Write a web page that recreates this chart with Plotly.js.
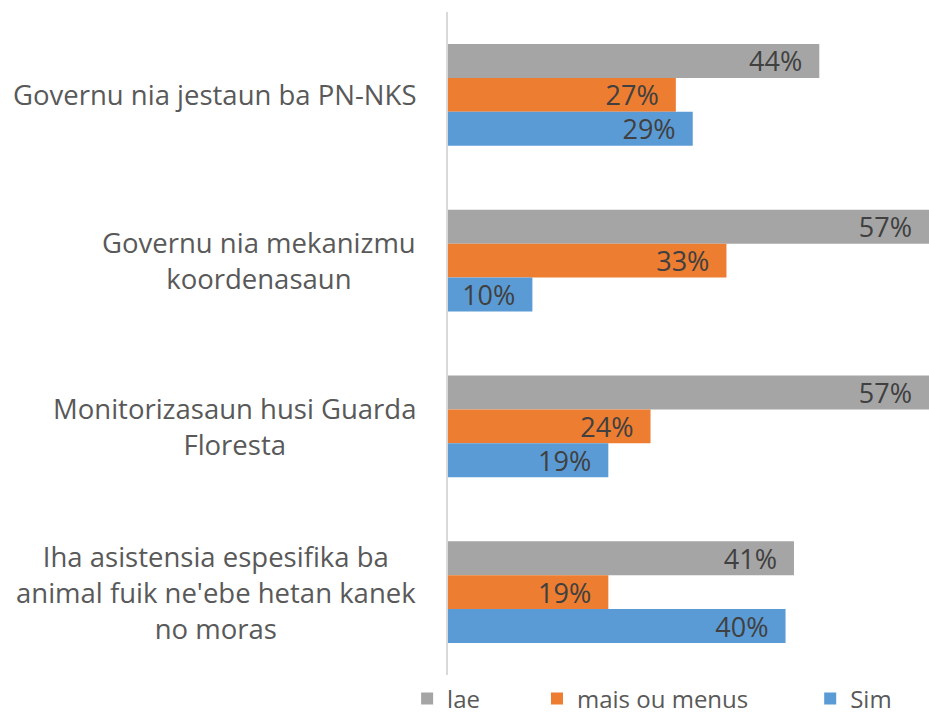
<!DOCTYPE html>
<html>
<head>
<meta charset="utf-8">
<script src="https://cdn.plot.ly/plotly-3.0.1.min.js"></script>
<style>html,body{margin:0;padding:0;background:#fff;}#chart{width:929px;height:717px;}</style>
</head>
<body>
<div id="chart"></div>
<script>
const categories = [
  "Governu nia jestaun ba PN-NKS",
  "Governu nia mekanizmu<br>koordenasaun",
  "Monitorizasaun husi Guarda<br>Floresta",
  "Iha asistensia espesifika ba<br>animal fuik ne'ebe hetan kanek<br>no moras"
];
const seriesNames = ["lae", "mais ou menus", "Sim"];
const laeValues = [44, 57, 57, 41];
const maisValues = [27, 33, 24, 19];
const simValues = [29, 10, 19, 40];
const colors = ["#a5a5a5", "#ed7d31", "#5b9bd5"];

const FONT = "Open Sans, sans-serif";
const allValues = [laeValues, maisValues, simValues];
const legendIds = ["legend", "legend2", "legend3"];

const traces = allValues.map((vals, i) => ({
  type: "bar",
  orientation: "h",
  name: seriesNames[i],
  y: categories,
  x: vals,
  text: vals.map(v => v + "%\u00a0\u00a0"),
  textposition: "inside",
  insidetextanchor: "end",
  textangle: 0,
  constraintext: "none",
  textfont: {family: FONT, size: 27, color: "#404040"},
  marker: {color: colors[i]},
  legend: legendIds[i],
  hoverinfo: "none"
}));

const annotations = categories.map(c => ({
  xref: "paper", yref: "y",
  x: -30/481, y: c,
  xanchor: "right", yanchor: "middle",
  align: "center",
  text: c,
  showarrow: false,
  font: {family: FONT, size: 27.5, color: "#595959"}
}));

const legendX = [-0.085, 0.185, 0.753];
const legendBase = {
  orientation: "h",
  yanchor: "middle",
  xanchor: "left",
  y: -0.036,
  bgcolor: "rgba(0,0,0,0)",
  font: {family: FONT, size: 24, color: "#595959"}
};

const layout = {
  width: 929,
  height: 717,
  margin: {l: 448, r: 0, t: 12, b: 42, pad: 0, autoexpand: false},
  paper_bgcolor: "#ffffff",
  plot_bgcolor: "#ffffff",
  barmode: "group",
  bargap: 0.385,
  bargroupgap: 0,
  showlegend: true,
  legend: Object.assign({}, legendBase, {x: legendX[0]}),
  legend2: Object.assign({}, legendBase, {x: legendX[1]}),
  legend3: Object.assign({}, legendBase, {x: legendX[2]}),
  xaxis: {
    range: [0, 57],
    showgrid: false,
    zeroline: false,
    showticklabels: false,
    showline: false,
    fixedrange: true
  },
  yaxis: {
    type: "category",
    autorange: "reversed",
    showticklabels: false,
    showgrid: false,
    zeroline: false,
    showline: true,
    linecolor: "#d9d9d9",
    linewidth: 2,
    ticks: "",
    fixedrange: true
  },
  annotations: annotations,
  font: {family: FONT, color: "#595959"}
};

Plotly.newPlot("chart", traces, layout, {staticPlot: true, displayModeBar: false});
</script>
</body>
</html>
